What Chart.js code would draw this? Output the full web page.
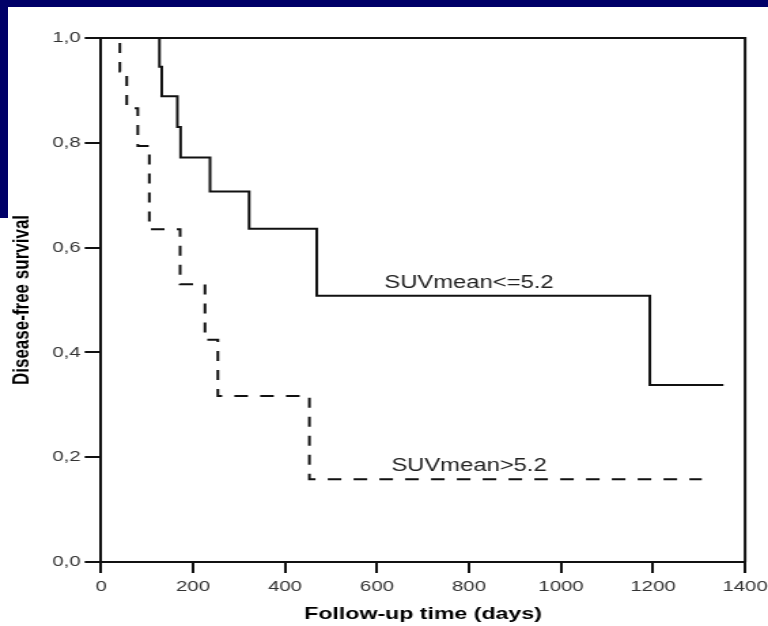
<!DOCTYPE html>
<html>
<head>
<meta charset="utf-8">
<title>Disease-free survival</title>
<script src="https://cdn.jsdelivr.net/npm/chart.js@4.4.1/dist/chart.umd.min.js"></script>
<style>
  html, body { margin: 0; padding: 0; background: #fff; overflow: hidden; }
  body { width: 768px; height: 626px; position: relative; }
  /* the figure is laid out narrow, then widened to the slide */
  #wrap { position: absolute; left: 0; top: 0; width: 565px; height: 626px;
          transform: scaleX(1.3593); transform-origin: 0 0; }
  .band { position: absolute; background: #000068; }
  #bandTop { left: 0; top: 0; width: 768px; height: 7px; }
  #bandLeft { left: 0; top: 0; width: 8px; height: 218px; }
</style>
</head>
<body>
<div id="wrap"><canvas id="km" width="565" height="626"></canvas></div>
<div class="band" id="bandTop"></div>
<div class="band" id="bandLeft"></div>
<script>
// Kaplan-Meier steps: time of each drop (days) and survival after it
const lowTimes = [0, 127, 132, 166, 173, 237, 322, 469, 1193, 1353];
const lowSurvival = [1.0, 0.945, 0.889, 0.830, 0.772, 0.707, 0.636, 0.508, 0.338, 0.338];

const highTimes = [0, 41, 56, 80, 105, 172, 226, 254, 453, 1306];
const highSurvival = [1.0, 0.936, 0.866, 0.794, 0.635, 0.530, 0.424, 0.317, 0.158, 0.158];

// group labels written next to the curves
const noteText = ['SUVmean<=5.2', 'SUVmean>5.2'];
const noteTime = [800, 800];
const noteSurvival = [0.532, 0.182];

const FONT = "'Liberation Sans', Arial, Helvetica, sans-serif";

function toPoints(times, values) {
    return times.map((t, i) => ({ x: t, y: values[i] }));
}

// top and right edges of the plot box
const frameBox = {
    id: 'frameBox',
    afterDraw(chart) {
        const { ctx, chartArea } = chart;
        ctx.save();
        ctx.strokeStyle = '#111';
        ctx.lineWidth = 2;
        ctx.beginPath();
        ctx.moveTo(chartArea.left, chartArea.top);
        ctx.lineTo(chartArea.right, chartArea.top);
        ctx.lineTo(chartArea.right, chartArea.bottom);
        ctx.stroke();
        ctx.restore();
    }
};

// curve labels placed in data coordinates
const curveNotes = {
    id: 'curveNotes',
    afterDatasetsDraw(chart) {
        const { ctx, scales } = chart;
        ctx.save();
        ctx.font = '17.5px ' + FONT;
        ctx.fillStyle = '#222';
        ctx.textAlign = 'center';
        ctx.textBaseline = 'middle';
        noteText.forEach((txt, i) => {
            ctx.fillText(txt, scales.x.getPixelForValue(noteTime[i]), scales.y.getPixelForValue(noteSurvival[i]));
        });
        ctx.restore();
    }
};

new Chart(document.getElementById('km'), {
    type: 'line',
    data: {
        datasets: [
            {
                label: 'SUVmean<=5.2',
                data: toPoints(lowTimes, lowSurvival),
                stepped: 'before',
                borderColor: '#111',
                borderWidth: 2,
                pointRadius: 0,
                fill: false
            },
            {
                label: 'SUVmean>5.2',
                data: toPoints(highTimes, highSurvival),
                stepped: 'before',
                borderColor: '#111',
                borderWidth: 2,
                borderDash: [10, 9],
                pointRadius: 0,
                fill: false
            }
        ]
    },
    options: {
        responsive: false,
        animation: false,
        devicePixelRatio: 1,
        layout: { padding: { left: 0, top: 38, right: 16.9, bottom: 0 } },
        plugins: {
            legend: { display: false },
            tooltip: { enabled: false }
        },
        scales: {
            x: {
                type: 'linear',
                min: 0,
                max: 1400,
                ticks: {
                    stepSize: 200,
                    padding: 5,
                    color: '#333',
                    font: { family: FONT, size: 15 },
                    callback: function(value) {
                        return String(value);
                    }
                },
                grid: { drawOnChartArea: false, drawTicks: true, tickLength: 11, color: '#111', lineWidth: 2 },
                border: { display: true, color: '#111', width: 2 },
                title: {
                    display: true,
                    text: 'Follow-up time (days)',
                    color: '#000',
                    font: { family: FONT, size: 17, weight: 'bold' },
                    padding: { top: 0, bottom: 1 }
                },
                afterFit: function(scale) {
                    scale.height = 64;
                    scale.paddingLeft = 0;
                    scale.paddingRight = 0;
                }
            },
            y: {
                min: 0,
                max: 1,
                ticks: {
                    stepSize: 0.2,
                    padding: 3,
                    color: '#333',
                    font: { family: FONT, size: 15 },
                    callback: function(value) {
                        return value.toFixed(1).replace('.', ',');
                    }
                },
                grid: { drawOnChartArea: false, drawTicks: true, tickLength: 12, color: '#111', lineWidth: 2 },
                border: { display: true, color: '#111', width: 2 },
                title: {
                    display: true,
                    text: 'Disease-free survival',
                    color: '#000',
                    font: { family: FONT, size: 17, weight: 'bold' },
                    padding: { top: 6, bottom: 0 }
                },
                afterFit: function(scale) {
                    scale.width = 74.3;
                }
            }
        }
    },
    plugins: [frameBox, curveNotes]
});
</script>
</body>
</html>
